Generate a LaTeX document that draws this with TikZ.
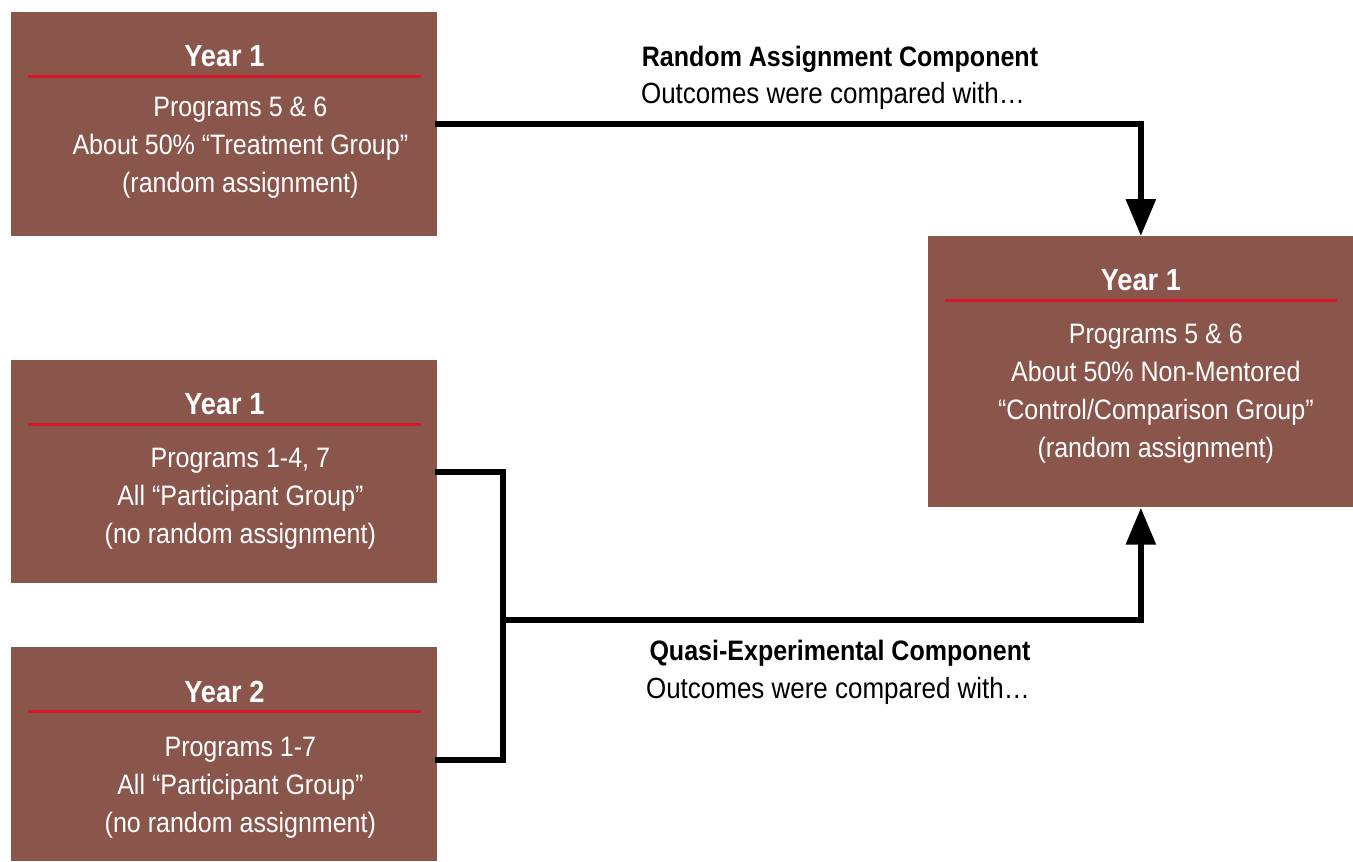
\documentclass[tikz,border=0pt]{standalone}
\usepackage{fontspec}
\setmainfont[FakeStretch=0.89]{Liberation Sans}
\usepackage{xcolor}
\usepackage{tikz}
\usetikzlibrary{positioning}
\usetikzlibrary{arrows.meta}

\definecolor{boxbrown}{HTML}{8A564C}
\definecolor{rulered}{HTML}{D7182A}

\tikzset{
  yearbox/.style={rectangle,fill=boxbrown,anchor=north west,inner sep=0pt,minimum width=8.52cm},
  yeartitle/.style={text=white,font=\fontsize{17.4}{20}\selectfont\bfseries,inner sep=0pt},
  yearbody/.style={text=white,font=\fontsize{16}{21.5}\selectfont,align=center,inner sep=0pt,anchor=north},
  yearrule/.style={color=rulered,line width=1.6pt},
  flow/.style={line width=3.4pt,line cap=rect},
  capbold/.style={font=\fontsize{16}{20}\selectfont\bfseries,inner sep=0pt},
  capplain/.style={font=\fontsize{16.6}{20}\selectfont,inner sep=0pt},
}

\begin{document}
\begin{tikzpicture}[>={Triangle[width=0.58cm,length=0.74cm]}]
	\useasboundingbox (0,0) rectangle (27.06,-17.22);
	
	% 四个方框
	\node[yearbox,minimum height=4.48cm] (treat) at (0.22,-0.24){};
	\node[yearbox,minimum height=5.42cm,minimum width=8.5cm] (ctrl) at (18.56,-4.72){};
	\node[yearbox,minimum height=4.46cm] (partA) at (0.22,-7.2){};
	\node[yearbox,minimum height=4.28cm] (partB) at (0.22,-12.94){};
	
	\foreach \b/\yr in {treat/1,ctrl/1,partA/1,partB/2}{
		\node[yeartitle] (\b-t) at ([yshift=-0.89cm] \b.north){Year \yr};
		\draw[yearrule] ([shift={(0.34cm,-1.29cm)}] \b.north west)--([shift={(-0.34cm,-1.29cm)}] \b.north east);
	}
	
	\node[yearbody] (treat-b) at ([shift={(0.32cm,-1.7cm)}] treat.north)
		{Programs 5 \& 6\\About 50\% “Treatment Group”\\(random assignment)};
	\node[yearbody] (ctrl-b) at ([shift={(0.3cm,-1.76cm)}] ctrl.north)
		{Programs 5 \& 6\\About 50\% Non-Mentored\\“Control/Comparison Group”\\(random assignment)};
	\node[yearbody] (partA-b) at ([shift={(0.32cm,-1.76cm)}] partA.north)
		{Programs 1-4, 7\\All “Participant Group”\\(no random assignment)};
	\node[yearbody] (partB-b) at ([shift={(0.32cm,-1.8cm)}] partB.north)
		{Programs 1-7\\All “Participant Group”\\(no random assignment)};
	
	% 连线
	\coordinate (jn) at (10.06,-12.4);
	\draw[flow,->] (treat.east)-|(ctrl.north);
	\draw[flow] (partA.east)-|(jn)|-([yshift=-0.12cm] partB.east);
	\draw[flow,->] (jn)-|(ctrl.south);
	
	% 说明文字
	\node[capbold] (rand-h) at (16.8,-1.18){Random Assignment Component};
	\node[capplain] (rand-s) at (16.66,-1.92){Outcomes were compared with…};
	\node[capbold] (quasi-h) at (16.8,-13.06){Quasi-Experimental Component};
	\node[capplain] (quasi-s) at (16.76,-13.82){Outcomes were compared with…};
\end{tikzpicture}
\end{document}
